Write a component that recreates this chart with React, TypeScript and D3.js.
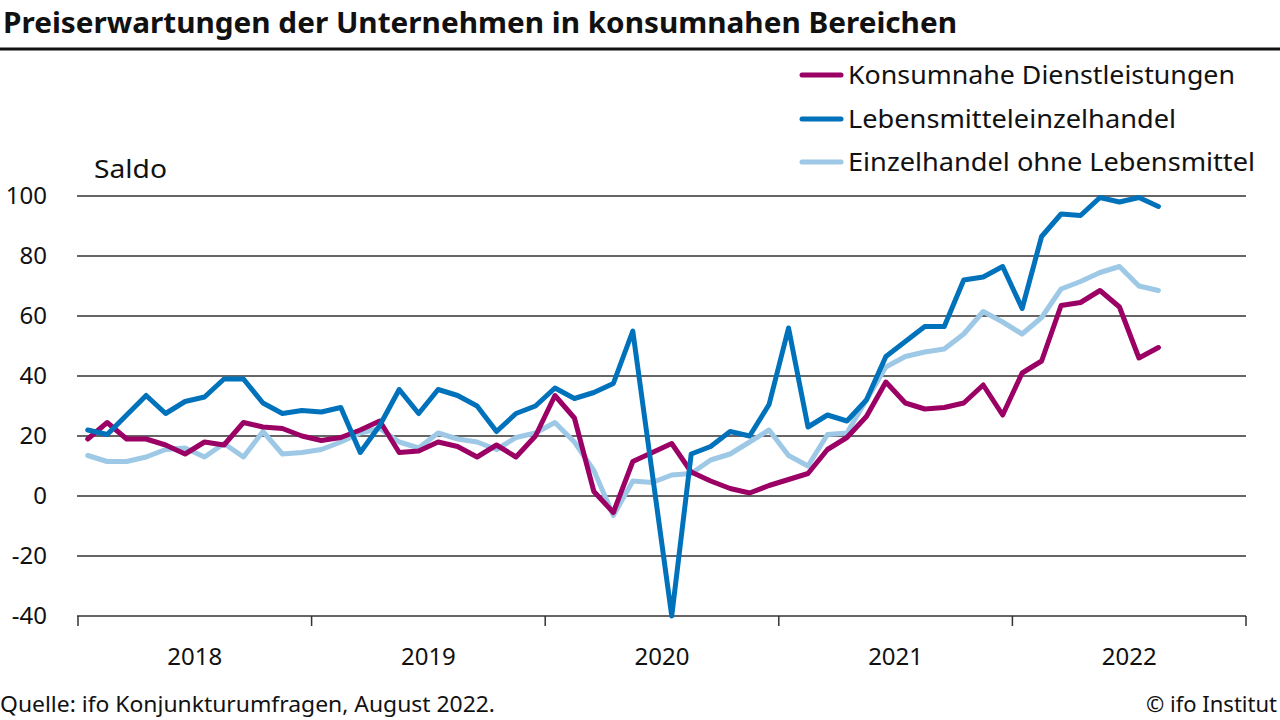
import * as d3 from "d3";

// monthly values Jan 2018 – Aug 2022 (Saldo)
const dienstleistungen = [
  19, 24.5, 19, 19, 17, 14, 18, 17, 24.5, 23, 22.5, 20,
  18.5, 19.5, 22, 25, 14.5, 15, 18, 16.5, 13, 17, 13, 20,
  33.5, 26, 1.5, -5.5, 11.5, 14.5, 17.5, 8, 5, 2.5, 1, 3.5,
  5.5, 7.5, 15.5, 19.5, 26.5, 38, 31, 29, 29.5, 31, 37, 27,
  41, 45, 63.5, 64.5, 68.5, 63, 46, 49.5,
];
const lebensmittel = [
  22, 20.5, 27, 33.5, 27.5, 31.5, 33, 39, 39, 31, 27.5, 28.5,
  28, 29.5, 14.5, 23.5, 35.5, 27.5, 35.5, 33.5, 30, 21.5, 27.5, 30,
  36, 32.5, 34.5, 37.5, 55, 7.5, -40, 14, 16.5, 21.5, 20, 30.5,
  56, 23, 27, 25, 32, 46.5, 51.5, 56.5, 56.5, 72, 73, 76.5,
  62.5, 86.5, 94, 93.5, 99.5, 98, 99.5, 96.5,
];
const ohneLebensmittel = [
  13.5, 11.5, 11.5, 13, 15.5, 16, 13, 17.5, 13, 21.5, 14, 14.5,
  15.5, 18, 21, 22.5, 18, 16, 21, 19, 18, 15.5, 19.5, 21,
  24.5, 18, 8.5, -6.5, 5, 4.5, 7, 7.5, 12, 14, 18, 22,
  13.5, 10, 20.5, 21, 32, 43, 46.5, 48, 49, 54, 61.5, 58,
  54, 59.5, 69, 71.5, 74.5, 76.5, 70, 68.5,
];

const years = ["2018", "2019", "2020", "2021", "2022"];
const yTicks = [-40, -20, 0, 20, 40, 60, 80, 100];

const seriesNames = [
  "Konsumnahe Dienstleistungen",
  "Lebensmitteleinzelhandel",
  "Einzelhandel ohne Lebensmittel",
];
const seriesColors = ["#9b0064", "#0072bb", "#9dc8e6"];
const seriesData = [dienstleistungen, lebensmittel, ohneLebensmittel];
const drawOrder = [2, 0, 1];

const W = 1280;
const H = 720;
const font = "'Noto Sans', 'Open Sans', sans-serif";

export default function App() {
  const x = d3.scaleLinear().domain([0, years.length * 12]).range([78, 1246]);
  const y = d3.scaleLinear().domain([-40, 100]).range([616, 196]);

  const line = d3
    .line<number>()
    .x((_, i) => x(i + 0.5))
    .y((d) => y(d));

  const legendY = [75, 119, 162];
  const legendW = [387, 328, 407];

  return (
    <svg
      width={W}
      height={H}
      viewBox={`0 0 ${W} ${H}`}
      style={{ position: "absolute", left: 0, top: 0, background: "#fff" }}
      fontFamily={font}
    >
      {/* title */}
      <text x={3} y={33} fontSize={29} fontWeight="bold" fill="#111" textLength={954} lengthAdjust="spacingAndGlyphs">
        Preiserwartungen der Unternehmen in konsumnahen Bereichen
      </text>
      <line x1={0} x2={W} y1={49} y2={49} stroke="#111" strokeWidth={3} />

      {/* legend */}
      {seriesNames.map((name, i) => (
        <g key={name}>
          <line
            x1={802}
            x2={841}
            y1={legendY[i]}
            y2={legendY[i]}
            stroke={seriesColors[i]}
            strokeWidth={5}
            strokeLinecap="round"
          />
          <text x={848} y={legendY[i] + 9} fontSize={25} fill="#111" textLength={legendW[i]} lengthAdjust="spacingAndGlyphs">
            {name}
          </text>
        </g>
      ))}

      <text x={94} y={178} fontSize={25} fill="#111" textLength={73} lengthAdjust="spacingAndGlyphs">
        Saldo
      </text>

      {/* grid + y labels */}
      {yTicks.map((t) => (
        <g key={t}>
          <line x1={77} x2={1246} y1={y(t)} y2={y(t)} stroke="#333" strokeWidth={1.5} />
          <text x={47} y={y(t) + 8} fontSize={24} textAnchor="end" fill="#111">
            {t}
          </text>
        </g>
      ))}

      {/* x ticks */}
      {d3.range(years.length + 1).map((k) => (
        <line key={k} x1={x(k * 12)} x2={x(k * 12)} y1={616} y2={626} stroke="#333" strokeWidth={1.5} />
      ))}
      {years.map((yr, k) => (
        <text key={yr} x={x(k * 12 + 6)} y={665} fontSize={24} textAnchor="middle" fill="#111">
          {yr}
        </text>
      ))}

      {/* series */}
      {drawOrder.map((s) => (
        <path
          key={s}
          d={line(seriesData[s]) ?? ""}
          fill="none"
          stroke={seriesColors[s]}
          strokeWidth={5}
          strokeLinejoin="round"
          strokeLinecap="round"
        />
      ))}

      {/* footer */}
      <text x={0} y={712} fontSize={22} fill="#111" textLength={495} lengthAdjust="spacingAndGlyphs">
        Quelle: ifo Konjunkturumfragen, August 2022.
      </text>
      <text x={1277} y={712} fontSize={22} fill="#111" textAnchor="end">
        © ifo Institut
      </text>
    </svg>
  );
}
